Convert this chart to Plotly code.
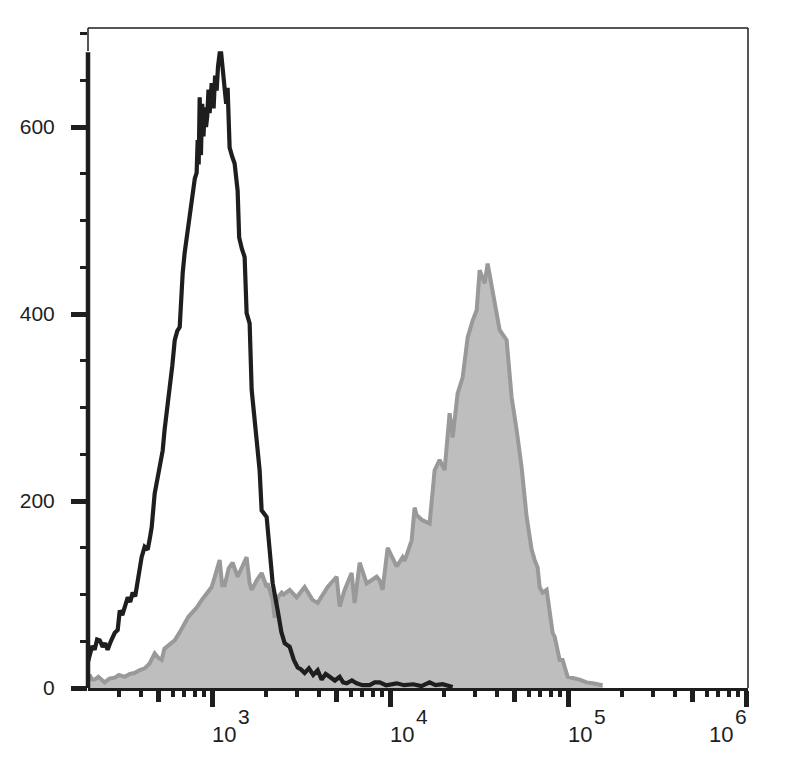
import numpy as np
import plotly.graph_objects as go

# ---- data ----
black_x = [201, 205, 212, 219, 226, 234, 243, 251, 259, 270, 284, 295, 303, 313, 323, 336, 347, 358, 370, 382,
           402, 418, 435, 447, 458, 476, 492, 508, 528, 541, 560, 578, 598, 617, 638, 658, 672, 684, 701, 725,
           748, 778, 800, 819, 830, 841, 852, 866, 880, 895, 909, 925, 940, 955, 969, 995, 1020, 1040, 1061, 1080,
           1103, 1125, 1146, 1177, 1200, 1223, 1255, 1300, 1339, 1392, 1420, 1470, 1524, 1564, 1626, 1669, 1735,
           1803, 1850, 1899, 2026, 2106, 2190, 2337, 2450, 2558, 2729, 2880, 3026, 3150, 3312, 3500, 3700, 3920,
           4128, 4350, 4578, 4900, 5210, 5450, 5703, 6100, 6490, 7000, 7678, 8200, 8740, 9500, 10890, 12000,
           13500, 15000, 16680, 18000, 19740, 21000, 22470]
black_y = [28, 33, 45, 41, 52, 51, 44, 48, 41, 50, 59, 62, 83, 78, 87, 97, 92, 102, 98, 112,
           140, 151, 148, 160, 172, 208, 222, 236, 254, 276, 298, 319, 345, 372, 382, 386, 420, 444, 465, 486,
           503, 532, 545, 551, 586, 560, 632, 570, 625, 590, 621, 600, 612, 640, 615, 647, 620, 655, 639, 665,
           679, 679, 665, 647, 625, 642, 578, 568, 561, 532, 482, 470, 461, 401, 390, 319, 283,
           247, 233, 190, 183, 148, 112, 83, 60, 48, 44, 30, 22, 20, 16, 21, 14, 19,
           9, 15, 12, 8, 12, 6, 5, 8, 5, 3, 3, 6, 6, 3, 5, 3,
           4, 2, 6, 3, 4, 2, 1]

gray_x = [202, 205, 212, 219, 230, 249, 265, 284, 300, 323, 345, 367, 390, 418, 445, 476, 500, 521, 540, 556,
          590, 617, 660, 701, 735, 768, 820, 874, 930, 995, 1040, 1103, 1140, 1177, 1240, 1305, 1392, 1450, 1564,
          1626, 1669, 1780, 1899, 2026, 2052, 2190, 2247, 2337, 2460, 2520, 2729, 2988, 3312, 3673, 3920, 4461,
          5011, 5210, 5558, 6083, 6325, 6750, 7388, 8406, 8740, 9087, 9693, 10890, 11770, 12080, 13220, 13740,
          14100, 15050, 16680, 17800, 18990, 20260, 21610, 22470, 23970, 25570, 27280, 29110, 30660, 31870,
          33990, 35340, 37700, 41270, 45190, 48200, 51420, 54860, 58520, 62430, 64900, 67480, 69250, 71980,
          75800, 78780, 81920, 84080, 87380, 89680, 93220, 95680, 99460, 116100, 127200, 137500, 156400]
gray_y = [8, 14, 9, 9, 12, 6, 10, 11, 14, 12, 15, 16, 19, 21, 26, 37, 32, 30, 42, 44,
          47, 51, 60, 69, 76, 80, 86, 94, 101, 108, 120, 137, 110, 110, 128, 134, 119, 126, 140,
          112, 105, 115, 123, 108, 112, 94, 75, 97, 102, 100, 105, 97, 108, 94, 91, 108,
          119, 87, 105, 123, 91, 134, 112, 119, 115, 105, 150, 130, 140, 136, 158, 193,
          185, 180, 176, 233, 244, 233, 294, 268, 315, 332, 375, 393, 404, 447,
          433, 454, 422, 383, 372, 311, 276, 236, 183, 148, 137, 129, 108, 102,
          105, 83, 59, 55, 41, 30, 30, 22, 12, 9, 6, 5, 3]

decades = [1e3, 1e4, 1e5, 1e6]
decade_exp = ["3", "4", "5", "6"]
five_ticks = [500, 5e3, 5e4, 5e5]
minor_ticks = [200, 300, 400, 600, 700, 800, 900,
               2e3, 3e3, 4e3, 6e3, 7e3, 8e3, 9e3,
               2e4, 3e4, 4e4, 6e4, 7e4, 8e4, 9e4,
               2e5, 3e5, 4e5, 6e5, 7e5, 8e5, 9e5]
y_major = [0, 200, 400, 600]
y_minor = [50, 100, 150, 250, 300, 350, 450, 500, 550, 650, 700]

X_RANGE = [2.303, 6.011]
Y_RANGE = [0, 706]
INK = "#1e1e1e"
FONT = "Arial, Liberation Sans, sans-serif"

fig = go.Figure()
fig.add_trace(go.Scatter(x=gray_x, y=gray_y, mode="lines", fill="tozeroy",
                         line=dict(color="#999999", width=4), fillcolor="#bebebe",
                         hoverinfo="skip", showlegend=False))
fig.add_trace(go.Scatter(x=black_x, y=black_y, mode="lines",
                         line=dict(color=INK, width=4.2),
                         hoverinfo="skip", showlegend=False))
# invisible trace for the overlay axis
fig.add_trace(go.Scatter(x=[1e3], y=[0], xaxis="x2", mode="markers",
                         marker=dict(opacity=0), hoverinfo="skip", showlegend=False))

# the page body adds an 8px margin on the left/top; plot area spans x 88-748, y 28-688 on the page
fig.update_layout(
    width=787, height=752,
    margin=dict(l=80, r=47, t=20, b=72),
    paper_bgcolor="white", plot_bgcolor="white",
    font=dict(family=FONT, color=INK),
    xaxis=dict(type="log", range=X_RANGE, showgrid=False, zeroline=False,
               showline=True, linewidth=3, linecolor=INK,
               tickmode="array", tickvals=decades, ticks="outside",
               ticklen=16, tickwidth=5, tickcolor=INK, showticklabels=False,
               minor=dict(tickmode="array", tickvals=minor_ticks, ticks="outside",
                          ticklen=6, tickwidth=4, tickcolor=INK)),
    xaxis2=dict(type="log", range=X_RANGE, overlaying="x", anchor="y", side="bottom",
                showgrid=False, zeroline=False, showline=True, linewidth=3, linecolor=INK,
                tickmode="array", tickvals=five_ticks, ticks="outside",
                ticklen=11, tickwidth=5, tickcolor=INK, showticklabels=False),
    yaxis=dict(range=Y_RANGE, showgrid=False, zeroline=False, showline=False,
               tickmode="array", tickvals=y_major, ticktext=[str(v) for v in y_major],
               ticks="outside", ticklen=16, tickwidth=5, tickcolor=INK,
               tickfont=dict(size=21, color=INK, family=FONT), ticklabelstandoff=12,
               minor=dict(tickmode="array", tickvals=y_minor, ticks="outside",
                          ticklen=7, tickwidth=3, tickcolor=INK)),
)

# thin frame on top and right, thick left axis line
fig.add_shape(type="line", xref="paper", yref="paper", x0=0, x1=1, y0=1, y1=1,
              line=dict(color=INK, width=1.5))
fig.add_shape(type="line", xref="paper", yref="paper", x0=1, x1=1, y0=0, y1=1,
              line=dict(color=INK, width=1.5))
fig.add_shape(type="line", xref="paper", yref="paper", x0=0, x1=0, y0=0.965, y1=1,
              line=dict(color=INK, width=1.5))
fig.add_shape(type="line", xref="paper", yref="y", x0=0, x1=0, y0=0, y1=680,
              line=dict(color=INK, width=4.5))

# decade tick labels 10^n (base "10" and raised exponent as separate texts)
for i, (v, e) in enumerate(zip(decades, decade_exp)):
    last = i == len(decades) - 1
    base_shift = -38 if last else -1
    exp_shift = base_shift + 26
    fig.add_annotation(x=np.log10(v), xref="x", y=0, yref="paper", text="10",
                       showarrow=False, xanchor="left", yanchor="middle",
                       xshift=base_shift, yshift=-46, borderpad=0,
                       font=dict(size=22, color=INK, family=FONT))
    fig.add_annotation(x=np.log10(v), xref="x", y=0, yref="paper", text=e,
                       showarrow=False, xanchor="left", yanchor="middle",
                       xshift=exp_shift, yshift=-28, borderpad=0,
                       font=dict(size=21, color=INK, family=FONT))

fig.write_html("out.html")
